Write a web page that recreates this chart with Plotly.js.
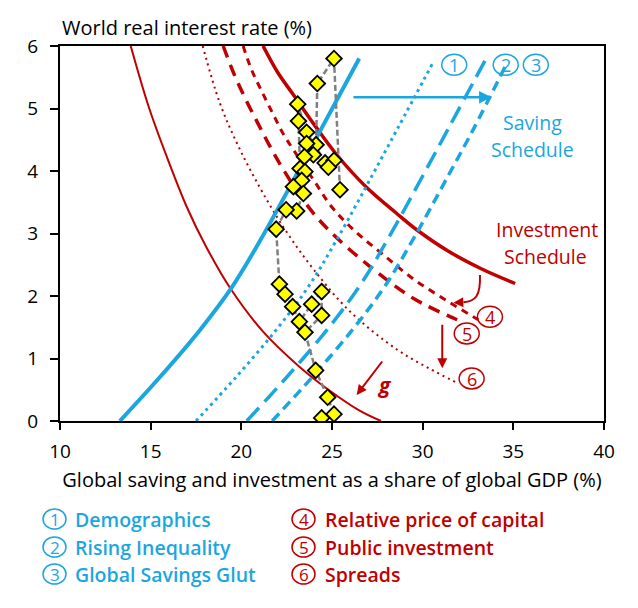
<!DOCTYPE html>
<html>
<head>
<meta charset="utf-8">
<script src="https://cdn.plot.ly/plotly-3.0.1.min.js"></script>
<style>html,body{margin:0;padding:0;background:#fff;}#chart{width:638px;height:608px;}</style>
</head>
<body>
<div id="chart"></div>
<script>
// ---------- data ----------
const xTicks = [10, 15, 20, 25, 30, 35, 40];
const yTicks = [0, 1, 2, 3, 4, 5, 6];

// Saving schedules (blue)
const savingX  = [13.3, 15.5, 17.7, 19.5, 21.1, 23.0, 24.4, 26.5];
const savingY  = [0, 0.7, 1.45, 2.15, 2.92, 3.92, 4.67, 5.8];
const saving1X = [17.5, 19.7, 21.9, 23.7, 25.3, 27.2, 28.6, 30.6];
const saving1Y = [0, 0.7, 1.45, 2.15, 2.92, 3.92, 4.67, 5.75];
const saving2X = [20.3, 22.5, 24.7, 26.5, 28.1, 30.0, 31.4, 33.5];
const saving2Y = [0, 0.7, 1.45, 2.15, 2.92, 3.92, 4.67, 5.8];
const saving3X = [21.7, 23.9, 26.1, 27.9, 29.5, 31.4, 32.8, 34.6];
const saving3Y = [0, 0.7, 1.45, 2.15, 2.92, 3.92, 4.67, 5.7];

// Investment schedules (red)
const investX  = [21.2, 22.0, 22.87, 24.0, 25.26, 26.9, 28.57, 29.67, 31.4, 33.2, 35.1];
const investY  = [6.0, 5.58, 5.22, 4.75, 4.26, 3.74, 3.32, 3.06, 2.72, 2.44, 2.2];
const invest4X = [20.1, 20.55, 21.1, 21.7, 22.3, 22.87, 24.0, 25.0, 26.3, 27.74, 29.5, 31.3, 33.07];
const invest4Y = [6.0, 5.63, 5.29, 4.94, 4.6, 4.34, 3.85, 3.42, 3.03, 2.68, 2.27, 1.93, 1.62];
const invest5X = [19.0, 19.6, 20.25, 20.9, 21.55, 22.3, 23.5, 24.8, 27.1, 29.5, 31.9];
const invest5Y = [6.0, 5.55, 5.14, 4.77, 4.41, 4.03, 3.5, 3.06, 2.47, 1.96, 1.62];
const invest6X = [17.87, 18.8, 19.93, 21.4, 22.6, 24.0, 26.0, 28.6, 30.3, 31.97];
const invest6Y = [6.0, 5.1, 4.34, 3.54, 2.98, 2.42, 1.75, 1.14, 0.85, 0.6];
const investGX = [13.9, 14.9, 15.9, 17.0, 18.0, 19.4, 21.2, 23.2, 24.9, 26.5, 27.7];
const investGY = [6.0, 5.02, 4.22, 3.42, 2.82, 2.12, 1.43, 0.87, 0.48, 0.17, 0.0];

// Observed saving/investment share vs real rate (yellow diamonds, in path order)
const obsX = [25.44, 25.11, 24.19, 24.12, 23.97, 24.62, 25.11, 24.8, 23.6, 23.11, 23.15, 23.24, 23.6, 23.48, 23.51, 23.33, 22.87, 23.42, 23.05, 22.47, 21.92, 22.1, 22.41, 22.83, 23.2, 23.88, 24.43, 24.43, 23.51, 24.1, 24.76, 25.11, 24.43];
const obsY = [3.70, 5.80, 5.40, 4.42, 4.26, 4.13, 4.17, 4.06, 4.62, 5.07, 4.80, 4.04, 4.44, 4.23, 3.99, 3.85, 3.75, 3.64, 3.36, 3.38, 3.07, 2.19, 2.03, 1.83, 1.59, 1.87, 2.07, 1.69, 1.42, 0.81, 0.38, 0.11, 0.05];

// Text
const yTitle = 'World real interest rate (%)';
const xTitle = 'Global saving and investment as a share of global GDP (%)';
const blueLegend = ['Demographics', 'Rising Inequality', 'Global Savings Glut'];
const redLegend  = ['Relative price of capital', 'Public investment', 'Spreads'];
const blueNums = ['1', '2', '3'];
const redNums  = ['4', '5', '6'];

// ---------- styles ----------
const BLUE = '#1CA6E0', RED = '#C00000', GRAY = '#808080';
const FONT = '"Open Sans", Lato, sans-serif';

// plot-area pixel geometry helpers (for layout only)
const L = 60, R = 604, T = 46, B = 421;
const px2paperX = p => (p - L) / (R - L);
const px2paperY = p => (B - p) / (B - T);

function line(x, y, color, width, dash) {
  return {x, y, type: 'scatter', mode: 'lines', hoverinfo: 'skip',
    line: {color, width, dash: dash || 'solid', shape: 'spline', smoothing: 1}};
}

const traces = [
  line(investGX, investGY, RED, 2),
  line(invest6X, invest6Y, '#B00000', 2, '2px,4px'),
  line(invest5X, invest5Y, RED, 3.5, '12px,8px'),
  line(invest4X, invest4Y, RED, 3, '7px,6px'),
  line(investX, investY, RED, 3.5),
  line(saving1X, saving1Y, BLUE, 3, '3px,4px'),
  line(saving2X, saving2Y, BLUE, 3.5, '18px,8px'),
  line(saving3X, saving3Y, BLUE, 3.5, '10px,6px'),
  line(savingX, savingY, BLUE, 4),
  {x: obsX, y: obsY, type: 'scatter', mode: 'lines', hoverinfo: 'skip',
   line: {color: GRAY, width: 2.5, dash: '6px,3px'}},
  {x: obsX, y: obsY, type: 'scatter', mode: 'markers', hoverinfo: 'skip',
   marker: {symbol: 'diamond', size: 12, color: '#FFFF00', line: {color: '#000', width: 1.8}}}
];

const shapes = [];
const annotations = [];

function circleLabel(ref, cx, cy, num, color, w, h, fs) {
  shapes.push({type: 'circle', xref: ref[0], yref: ref[1], xsizemode: 'pixel', ysizemode: 'pixel',
    xanchor: cx, yanchor: cy, x0: -w / 2, x1: w / 2, y0: -h / 2, y1: h / 2,
    line: {color, width: 1.5}, fillcolor: 'rgba(0,0,0,0)'});
  annotations.push({xref: ref[0], yref: ref[1], x: cx, y: cy, text: num, showarrow: false,
    xanchor: 'center', yanchor: 'middle', yshift: 0, font: {family: FONT, size: fs, color}});
}

// circled numbers in the plot
circleLabel(['x', 'y'], 31.74, 5.70, blueNums[0], BLUE, 25, 21, 18);
circleLabel(['x', 'y'], 34.58, 5.70, blueNums[1], BLUE, 25, 21, 18);
circleLabel(['x', 'y'], 36.24, 5.70, blueNums[2], BLUE, 25, 21, 18);
circleLabel(['x', 'y'], 33.71, 1.67, redNums[0], RED, 25, 21, 18);
circleLabel(['x', 'y'], 32.43, 1.40, redNums[1], RED, 25, 21, 18);
circleLabel(['x', 'y'], 32.70, 0.68, redNums[2], RED, 25, 21, 18);

// schedule labels
annotations.push({x: 36.06, y: 4.784, text: 'Saving', showarrow: false, font: {family: FONT, size: 19.5, color: BLUE}});
annotations.push({x: 36.06, y: 4.352, text: 'Schedule', showarrow: false, font: {family: FONT, size: 19.5, color: BLUE}});
annotations.push({x: 36.83, y: 3.064, text: 'Investment', showarrow: false, font: {family: FONT, size: 19.5, color: RED}});
annotations.push({x: 36.80, y: 2.632, text: 'Schedule', showarrow: false, font: {family: FONT, size: 19.5, color: RED}});
annotations.push({x: 27.92, y: 0.58, text: '<b><i>g</i></b>', showarrow: false, font: {family: FONT, size: 21, color: RED}});

// arrows
function arrow(x0, y0, x1, y1, color, width) {
  annotations.push({x: x1, y: y1, ax: x0, ay: y0, xref: 'x', yref: 'y', axref: 'x', ayref: 'y',
    text: '', showarrow: true, arrowhead: 2, arrowsize: 1, arrowwidth: width, arrowcolor: color, standoff: 0});
}
arrow(26.1, 5.18, 33.8, 5.18, BLUE, 2.5);
arrow(31.08, 1.563, 31.08, 0.843, RED, 2);
arrow(27.83, 0.976, 26.36, 0.416, RED, 2);
arrow(32.25, 1.90, 31.69, 1.893, RED, 2);
shapes.push({type: 'path', xref: 'x', yref: 'y', path: 'M 33.16,2.336 C 33.2,2.0 32.9,1.91 32.25,1.90',
  line: {color: RED, width: 2}});

// y-axis title at top-left
annotations.push({xref: 'paper', yref: 'paper', x: 0, y: 1, xanchor: 'left', yanchor: 'bottom', yshift: 3,
  text: yTitle, showarrow: false, font: {family: FONT, size: 20, color: '#000'}});

// bottom legend
const rowsPx = [519, 547, 574];
for (let i = 0; i < 3; i++) {
  const py = px2paperY(rowsPx[i]);
  circleLabel(['paper', 'paper'], px2paperX(54.5), py, blueNums[i], BLUE, 23, 20, 17);
  circleLabel(['paper', 'paper'], px2paperX(303.5), py, redNums[i], RED, 23, 20, 17);
  annotations.push({xref: 'paper', yref: 'paper', x: px2paperX(73), y: py, xanchor: 'left', yanchor: 'middle',
    text: blueLegend[i], showarrow: false, font: {family: FONT, size: 19.5, weight: 600, color: BLUE}});
  annotations.push({xref: 'paper', yref: 'paper', x: px2paperX(323), y: py, xanchor: 'left', yanchor: 'middle',
    text: redLegend[i], showarrow: false, font: {family: FONT, size: 19.5, weight: 600, color: RED}});
}

const axisCommon = {showline: true, linecolor: '#000', linewidth: 2, mirror: true, ticks: 'outside',
  tickcolor: '#000', tickwidth: 2, showgrid: false, zeroline: false, fixedrange: true,
  tickfont: {family: FONT, size: 19, color: '#000'}};

const layout = {
  width: 638, height: 608,
  margin: {l: L, r: 638 - R, t: T, b: 608 - B, pad: 0},
  paper_bgcolor: '#fff', plot_bgcolor: '#fff', showlegend: false,
  font: {family: FONT, color: '#000'},
  xaxis: Object.assign({}, axisCommon, {range: [10, 40], tickvals: xTicks, ticklen: 7, ticklabelstandoff: 5,
    title: {text: xTitle, standoff: 10, font: {family: FONT, size: 20, color: '#000'}}}),
  yaxis: Object.assign({}, axisCommon, {range: [0, 6], tickvals: yTicks, ticklen: 8, ticklabelstandoff: 8}),
  shapes, annotations
};

Plotly.newPlot('chart', traces, layout, {staticPlot: true, displayModeBar: false});
</script>
</body>
</html>
